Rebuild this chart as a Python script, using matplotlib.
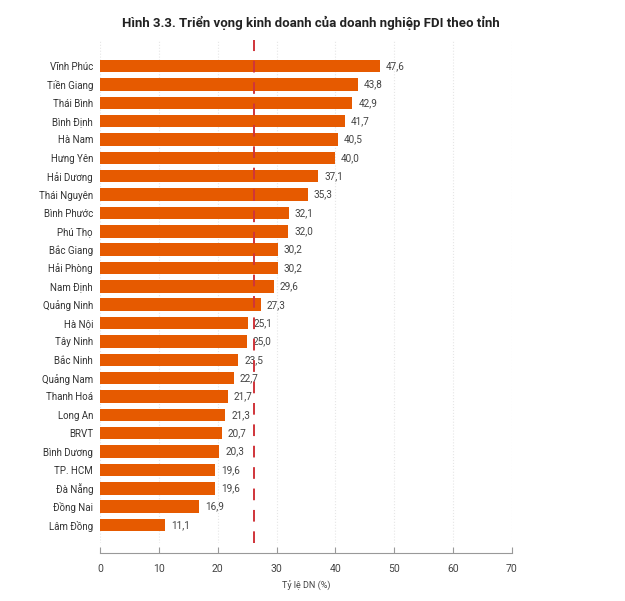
import matplotlib.pyplot as plt

provinces = ['Vĩnh Phúc', 'Tiền Giang', 'Thái Bình', 'Bình Định', 'Hà Nam', 'Hưng Yên',
             'Hải Dương', 'Thái Nguyên', 'Bình Phước', 'Phú Thọ', 'Bắc Giang', 'Hải Phòng',
             'Nam Định', 'Quảng Ninh', 'Hà Nội', 'Tây Ninh', 'Bắc Ninh', 'Quảng Nam',
             'Thanh Hoá', 'Long An', 'BRVT', 'Bình Dương', 'TP. HCM', 'Đà Nẵng',
             'Đồng Nai', 'Lâm Đồng']
values = [47.6, 43.8, 42.9, 41.7, 40.5, 40.0, 37.1, 35.3, 32.1, 32.0, 30.2, 30.2,
          29.6, 27.3, 25.1, 25.0, 23.5, 22.7, 21.7, 21.3, 20.7, 20.3, 19.6, 19.6,
          16.9, 11.1]
average = 26.2
x_ticks = [0, 10, 20, 30, 40, 50, 60, 70]

plt.rcParams['font.family'] = ['Roboto', 'DejaVu Sans']

fig = plt.figure(figsize=(6.25, 6.01), dpi=100)
ax = fig.add_axes([0.16, 0.0965, 0.659, 0.837])

pos = list(range(len(provinces)))
ax.barh(pos, values, height=0.68, color='#E65A00', zorder=2)
for p, v in zip(pos, values):
    ax.text(v + 1.0, p, f'{v:.1f}'.replace('.', ','), va='center', ha='left',
            fontsize=7.2, color='#444444', zorder=3)

ax.axvline(average, color='#D0343A', lw=1.4, linestyle=(0, (6, 5)), zorder=4)

ax.set_yticks(pos)
ax.set_yticklabels(provinces, fontsize=7, color='#333333')
ax.set_ylim(25.98, -1.42)
ax.set_xlim(0, 70)
ax.set_xticks(x_ticks)
ax.tick_params(axis='y', length=0, pad=5)
ax.tick_params(axis='x', direction='in', length=4, width=0.8, color='#999999',
               labelsize=7.5, labelcolor='#444444', pad=8)
ax.grid(axis='x', color='#e6e6e6', linestyle=':', linewidth=0.8, zorder=0)

for s in ['top', 'right', 'left']:
    ax.spines[s].set_visible(False)
ax.spines['bottom'].set_position(('outward', 7))
ax.spines['bottom'].set_color('#999999')
ax.spines['bottom'].set_linewidth(0.8)

ax.set_xlabel('Tỷ lệ DN (%)', fontsize=6.5, color='#444444', labelpad=5)

fig.text(0.498, 0.962, 'Hình 3.3. Triển vọng kinh doanh của doanh nghiệp FDI theo tỉnh',
         ha='center', va='center', fontsize=9.5, fontweight='bold', color='#222222')

fig.savefig('out.png', dpi=100)
